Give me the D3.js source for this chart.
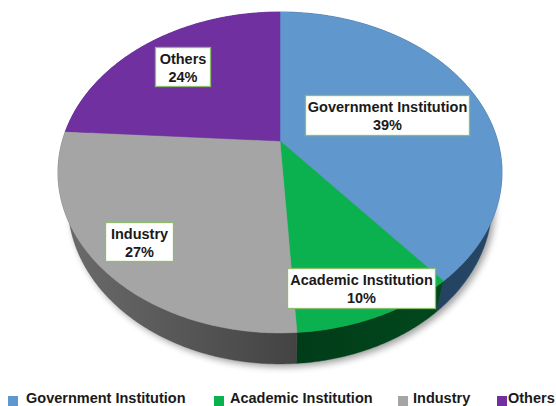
<!DOCTYPE html>
<html>
<head>
<meta charset="utf-8">
<script src="https://cdnjs.cloudflare.com/ajax/libs/d3/7.8.5/d3.min.js"></script>
<style>
html,body{margin:0;padding:0;background:#fff}
svg{display:block}
text{font-family:"Liberation Sans",Arial,sans-serif;font-weight:700;fill:#1a1a1a}
</style>
</head>
<body>
<svg id="chart" width="556" height="406"></svg>
<script>
// Sector shares, clockwise from twelve o'clock
const categories = ["Government Institution", "Academic Institution", "Industry", "Others"];
const shares = [39, 10, 27, 24];
const topColors = ["#6097cd", "#0bb14f", "#a5a5a5", "#7030a0"];
const wallStops = [["#1d3853", "#274767"], ["#013c18", "#01481e"], ["#6c6c6c", "#434343"], ["#4a2070", "#4a2070"]];

// Callout boxes: left, top, right, bottom
const calloutBoxes = [[305, 95, 470, 136], [287, 268, 436, 309], [105, 222, 174, 262], [155, 47, 211, 87]];
// Legend: swatch left edge, text left edge
const legendSwatchX = [8, 214, 398, 497];
const legendTextX = [26, 230, 413, 508];

const svg = d3.select("#chart");
const defs = svg.append("defs");

const blur = defs.append("filter").attr("id", "soft")
  .attr("x", "-10%").attr("y", "-10%").attr("width", "120%").attr("height", "120%");
blur.append("feGaussianBlur").attr("stdDeviation", 3.5);

wallStops.forEach((stops, i) => {
  const g = defs.append("linearGradient").attr("id", "wall" + i);
  g.append("stop").attr("offset", "0%").attr("stop-color", stops[0]);
  g.append("stop").attr("offset", "100%").attr("stop-color", stops[1]);
});

// The disc is a unit circle seen in perspective, so its centre sits above the ellipse centre
const hub = { x: 280, y: 141 };
const radiusX = 217.7, radiusY = 154.3, tilt = 0.196;
const rimCentreY = 172;
const wallDepth = 31, wallNarrowing = 0.955;

function rim(theta) {
  const u = Math.sin(theta), v = -Math.cos(theta);
  const s = 1 / (1 - tilt * v);
  return [hub.x + radiusX * u * s, hub.y + radiusY * v * s];
}
function lowerRim(theta) {
  const [x, y] = rim(theta);
  return [hub.x + (x - hub.x) * wallNarrowing, rimCentreY + (y - rimCentreY) + wallDepth];
}

const pie = d3.pie().sort(null)(shares);
const line = d3.line();
const sweep = (a, b, fn) => {
  const n = Math.max(2, Math.ceil((b - a) / 0.01));
  return d3.range(n + 1).map(i => fn(a + (b - a) * i / n));
};

// Soft shadow falling below the base of the disc
svg.append("path")
  .attr("d", line(sweep(0, 2 * Math.PI, lowerRim)) + "Z")
  .attr("transform", "translate(3,3)")
  .attr("fill", "#000").attr("opacity", 0.38).attr("filter", "url(#soft)");

// Side walls
svg.append("g").selectAll("path").data(pie).join("path")
  .attr("d", d => line(sweep(d.startAngle, d.endAngle, rim)
      .concat(sweep(d.startAngle, d.endAngle, lowerRim).reverse())) + "Z")
  .attr("fill", (d, i) => `url(#wall${i})`)
  .attr("stroke", (d, i) => wallStops[i][1]).attr("stroke-width", 0.4);

// Top face
svg.append("g").selectAll("path").data(pie).join("path")
  .attr("d", d => line([[hub.x, hub.y]].concat(sweep(d.startAngle, d.endAngle, rim))) + "Z")
  .attr("fill", (d, i) => topColors[i])
  .attr("stroke", (d, i) => topColors[i]).attr("stroke-width", 0.5);

// Callouts
const labelSize = 14.5;
const callouts = svg.append("g").selectAll("g").data(categories).join("g");
callouts.append("rect")
  .attr("x", (d, i) => calloutBoxes[i][0] + 0.5)
  .attr("y", (d, i) => calloutBoxes[i][1] + 0.5)
  .attr("width", (d, i) => calloutBoxes[i][2] - calloutBoxes[i][0] - 1)
  .attr("height", (d, i) => calloutBoxes[i][3] - calloutBoxes[i][1] - 1)
  .attr("fill", "#fff").attr("stroke", "#8dbd6e").attr("stroke-width", 1.3);
callouts.append("text")
  .attr("text-anchor", "middle").attr("font-size", labelSize)
  .attr("x", (d, i) => (calloutBoxes[i][0] + calloutBoxes[i][2]) / 2)
  .attr("y", (d, i) => calloutBoxes[i][1] + 17)
  .text(d => d);
callouts.append("text")
  .attr("text-anchor", "middle").attr("font-size", labelSize)
  .attr("x", (d, i) => (calloutBoxes[i][0] + calloutBoxes[i][2]) / 2)
  .attr("y", (d, i) => calloutBoxes[i][1] + 35)
  .text((d, i) => shares[i] + "%");

// Legend
const legend = svg.append("g").selectAll("g").data(categories).join("g");
legend.append("rect")
  .attr("x", (d, i) => legendSwatchX[i]).attr("y", 396)
  .attr("width", 10).attr("height", 10)
  .attr("fill", (d, i) => topColors[i]);
legend.append("text")
  .attr("x", (d, i) => legendTextX[i]).attr("y", 403)
  .attr("font-size", labelSize)
  .text(d => d);
</script>
</body>
</html>
